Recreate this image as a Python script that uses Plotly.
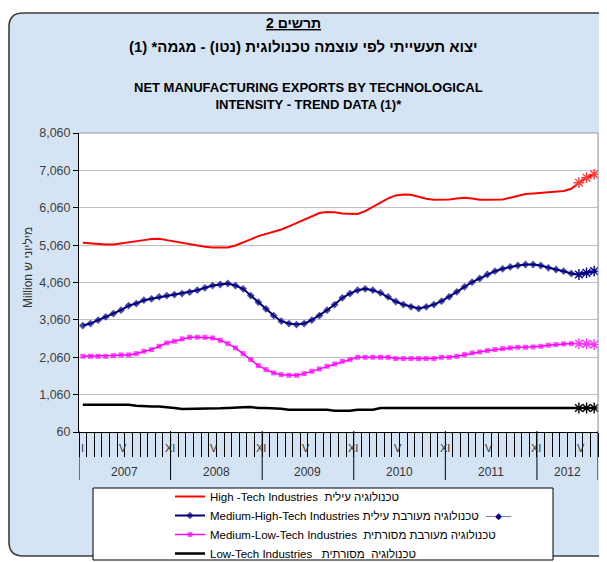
import plotly.graph_objects as go

# ---------------- data (monthly, Jan 2007 .. Aug 2012) ----------------
month_index = list(range(68))

high_tech = [5122, 5104, 5078, 5078, 5078, 5104, 5122, 5158, 5194, 5221, 5230, 5194,
             5158, 5104, 5069, 5042, 5015, 4997, 4988, 4997, 5051, 5122, 5212, 5301,
             5354, 5408, 5480, 5560, 5649, 5739, 5828, 5917, 5944, 5940, 5908, 5895,
             5895, 5971, 6078, 6194, 6310, 6390, 6417, 6408, 6346, 6301, 6274, 6274,
             6283, 6310, 6328, 6310, 6274, 6274, 6274, 6280, 6328, 6380, 6425, 6444,
             6462, 6480, 6489, 6506, 6569, 6730, 6864, 6953]

med_high_tech = [2908, 2961, 3051, 3140, 3229, 3319, 3443, 3497, 3586, 3622, 3676, 3711,
                 3738, 3765, 3801, 3854, 3917, 3979, 4006, 4033, 3979, 3890, 3711, 3533,
                 3354, 3176, 3024, 2961, 2934, 2961, 3051, 3176, 3319, 3470, 3649, 3765,
                 3854, 3890, 3854, 3783, 3676, 3551, 3470, 3408, 3363, 3408, 3470, 3560,
                 3676, 3810, 3944, 4069, 4167, 4274, 4363, 4426, 4479, 4515, 4542, 4542,
                 4515, 4453, 4408, 4363, 4301, 4274, 4319, 4363]

med_low_tech = [2086, 2086, 2086, 2086, 2104, 2122, 2122, 2158, 2220, 2265, 2354, 2444,
                2488, 2551, 2595, 2595, 2595, 2577, 2515, 2425, 2309, 2158, 1997, 1836,
                1729, 1640, 1595, 1577, 1577, 1622, 1684, 1747, 1818, 1881, 1952, 1997,
                2059, 2059, 2059, 2059, 2059, 2024, 2024, 2024, 2024, 2024, 2024, 2059,
                2059, 2086, 2131, 2175, 2202, 2238, 2265, 2292, 2309, 2327, 2327, 2336,
                2354, 2381, 2399, 2417, 2425, 2425, 2417, 2399]

low_tech = [790, 790, 790, 790, 790, 790, 790, 765, 745, 745, 745, 730,
            700, 675, 675, 675, 675, 675, 693, 702, 702, 720, 729, 702,
            702, 702, 684, 657, 657, 657, 657, 657, 657, 630, 630, 630,
            657, 657, 657, 702, 702, 702, 702, 702, 702, 702, 702, 702,
            702, 702, 702, 702, 702, 702, 702, 702, 702, 702, 702, 702,
            702, 702, 702, 702, 702, 702, 702, 702]

n_tail = 3  # last (trend-estimate) points drawn with asterisks

series_names = [
    "High -Tech Industries\u00a0\u00a0טכנולוגיה עילית",
    "Medium-High-Tech Industries טכנולוגיה מעורבת עילית",
    "Medium-Low-Tech Industries\u00a0\u00a0טכנולוגיה מעורבת מסורתית",
    "Low-Tech Industries\u00a0\u00a0\u00a0טכנולוגיה\u00a0\u00a0מסורתית",
]

year_labels = ["2007", "2008", "2009", "2010", "2011", "2012"]
year_bounds = [0, 12, 24, 36, 48, 60, 68]
month_label_pos = [0.4, 5.75, 11.9, 17.75, 23.9, 29.75, 35.9, 41.75, 47.9, 53.75, 59.9, 65.75]
month_label_txt = ["I", "V", "XI", "V", "XI", "V", "XI", "V", "XI", "V", "XI", "V"]
y_ticks = [60, 1060, 2060, 3060, 4060, 5060, 6060, 7060, 8060]

title_he_1 = "תרשים 2"
title_he_2 = "יצוא תעשייתי לפי עוצמה טכנולוגית (נטו) - מגמה* (1)"
title_en = "NET MANUFACTURING EXPORTS BY TECHNOLOGICAL<br>INTENSITY - TREND DATA (1)*"
y_title = "Million מיליוני ש"

# ---------------- geometry helpers ----------------
# The page body adds an 8px offset, so the figure is 8px smaller and every
# reference pixel position p is mapped to p - 8 inside the figure.
OFF = 8
W, H = 607 - OFF, 562 - OFF
ML, MR, MT, MB = 71, 9, 125, 130
PW = W - ML - MR
PH = H - MT - MB
FONT = "Liberation Sans, Arial, sans-serif"


def fx(p):
    return (p - OFF - ML) / PW


def fy(p):
    return (H - MB - (p - OFF)) / PH


def rtl(s):
    return "\u202b" + s + "\u202c"


xs = [m + 0.5 for m in month_index]
n = len(xs)

fig = go.Figure()

styles = [
    dict(color="#ff0000", width=2, symbol=None, msize=0, tail="#ff3b3b"),
    dict(color="#000080", width=2, symbol="diamond", msize=6, tail="#000080"),
    dict(color="#ff00ff", width=1.5, symbol="square", msize=5, tail="#ff33ff"),
    dict(color="#000000", width=2.5, symbol=None, msize=0, tail="#000000"),
]
data = [high_tech, med_high_tech, med_low_tech, low_tech]

for name, ys, st in zip(series_names, data, styles):
    if st["symbol"]:
        sizes = [st["msize"] if i < n - n_tail else 0 for i in range(n)]
        fig.add_trace(go.Scatter(
            x=xs, y=ys, name=name, mode="lines+markers",
            line=dict(color=st["color"], width=st["width"]),
            marker=dict(symbol=st["symbol"], size=sizes, color=st["color"],
                        line=dict(width=0)),
            hoverinfo="skip"))
    else:
        fig.add_trace(go.Scatter(
            x=xs, y=ys, name=name, mode="lines",
            line=dict(color=st["color"], width=st["width"]),
            hoverinfo="skip"))

for ys, st in zip(data, styles):
    fig.add_trace(go.Scatter(
        x=xs[-n_tail:], y=ys[-n_tail:], mode="markers", showlegend=False,
        marker=dict(symbol="asterisk-open", size=9, color=st["tail"],
                    line=dict(width=1.4, color=st["tail"])),
        hoverinfo="skip"))

# ---------------- shapes ----------------
shapes = []
L, T, B, R, r = 9, 13, 556, 620, 14
panel = (f"M {fx(R)},{fy(T)} L {fx(L + r)},{fy(T)} Q {fx(L)},{fy(T)} {fx(L)},{fy(T + r)} "
         f"L {fx(L)},{fy(B - r)} Q {fx(L)},{fy(B)} {fx(L + r)},{fy(B)} L {fx(R)},{fy(B)} Z")
shapes.append(dict(type="path", xref="paper", yref="paper", path=panel,
                   fillcolor="#d5e4f5", line=dict(color="#3c3c3c", width=1.6), layer="below"))
shapes.append(dict(type="rect", xref="paper", yref="paper", x0=0, x1=1, y0=0, y1=1,
                   fillcolor="white", line=dict(width=0), layer="below"))
shapes.append(dict(type="path", xref="paper", yref="paper", path="M 0,1 L 1,1 L 1,0",
                   line=dict(color="#9a9a9a", width=1)))
shapes.append(dict(type="rect", xref="paper", yref="paper",
                   x0=fx(93), x1=fx(553), y0=fy(560), y1=fy(488),
                   fillcolor="white", line=dict(color="black", width=1), layer="below"))
for b in year_bounds:
    shapes.append(dict(type="line", xref="x", yref="paper", x0=b, x1=b,
                       y0=fy(431), y1=fy(480), line=dict(color="black", width=1)))

# ---------------- annotations ----------------
ann = []
ann.append(dict(text="<b><u>" + rtl(title_he_1) + "</u></b>", x=fx(293), y=fy(23),
                xref="paper", yref="paper", showarrow=False, xanchor="center", yanchor="middle",
                font=dict(size=14, color="black", family=FONT)))
ann.append(dict(text="<b>" + rtl(title_he_2) + "</b>", x=fx(303), y=fy(47),
                xref="paper", yref="paper", showarrow=False, xanchor="center", yanchor="middle",
                font=dict(size=15, color="black", family=FONT)))
ann.append(dict(text="<b>" + title_en + "</b>", x=fx(308), y=fy(96),
                xref="paper", yref="paper", showarrow=False, xanchor="center", yanchor="middle",
                font=dict(size=13, color="black", family=FONT)))
ann.append(dict(text=y_title, x=fx(28), y=fy(268), xref="paper", yref="paper",
                showarrow=False, textangle=-90, xanchor="center", yanchor="middle",
                font=dict(size=12, color="#333333", family=FONT)))
# trailing legend-key glyph shown after the 2nd legend entry in the original
ann.append(dict(text="—◆—", x=fx(484), y=fy(516), xref="paper", yref="paper",
                showarrow=False, xanchor="left", yanchor="middle",
                font=dict(size=9, color="#000080", family=FONT)))
for p, t in zip(month_label_pos, month_label_txt):
    ann.append(dict(text=t, x=p, y=fy(448), xref="x", yref="paper", showarrow=False,
                    xanchor="center", yanchor="middle",
                    font=dict(size=11, color="#333333", family=FONT)))
for i, yl in enumerate(year_labels):
    ann.append(dict(text=yl, x=(year_bounds[i] + year_bounds[i + 1]) / 2, y=fy(472),
                    xref="x", yref="paper", showarrow=False, xanchor="center", yanchor="middle",
                    font=dict(size=12, color="#333333", family=FONT)))

fig.update_layout(
    width=W, height=H,
    margin=dict(l=ML, r=MR, t=MT, b=MB, pad=0, autoexpand=False),
    paper_bgcolor="white", plot_bgcolor="white",
    font=dict(family=FONT, size=12, color="#333333"),
    showlegend=True,
    legend=dict(x=fx(170), y=fy(482), xanchor="left", yanchor="top",
                bgcolor="rgba(0,0,0,0)", borderwidth=0, tracegroupgap=0,
                font=dict(size=11.5, color="black", family=FONT)),
    xaxis=dict(range=[0, 68], tickmode="linear", tick0=0, dtick=1, ticks="outside",
               ticklen=24, tickcolor="black", tickwidth=1, showticklabels=False,
               showgrid=False, zeroline=False, showline=True, linecolor="black",
               linewidth=1, fixedrange=True),
    yaxis=dict(range=[60, 8060], tickmode="array", tickvals=y_ticks,
               ticktext=[f"{v:,}" for v in y_ticks], ticks="outside", ticklen=5,
               tickcolor="black", showgrid=True, gridcolor="#bfbfbf", gridwidth=1,
               zeroline=False, showline=True, linecolor="black", linewidth=1,
               tickfont=dict(size=12.5, color="#404040", family=FONT), fixedrange=True),
    shapes=shapes, annotations=ann,
)

fig.write_html("out.html")
